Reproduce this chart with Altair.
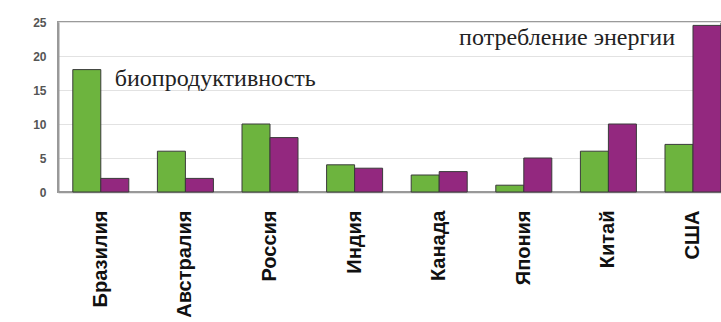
import altair as alt
import pandas as pd

countries = ["Бразилия", "Австралия", "Россия", "Индия", "Канада", "Япония", "Китай", "США"]
bio = [18, 6, 10, 4, 2.5, 1, 6, 7]
energy = [2, 2, 8, 3.5, 3, 5, 10, 24.5]
series_names = ["биопродуктивность", "потребление энергии"]
colors = ["#6db43e", "#93287f"]
y_ticks = [0, 5, 10, 15, 20, 25]

# annotation labels: text, anchor category, anchor value
ann_text = ["биопродуктивность", "потребление энергии"]
ann_country = ["Бразилия", "США"]
ann_value = [15.6, 21.6]

rows = []
for c, b, e in zip(countries, bio, energy):
    rows.append({"country": c, "series": series_names[0], "value": b})
    rows.append({"country": c, "series": series_names[1], "value": e})
df = pd.DataFrame(rows)
ann = pd.DataFrame({"text": ann_text, "country": ann_country, "value": ann_value})

x_scale = alt.Scale(domain=countries, paddingInner=0.338, paddingOuter=0.0875, align=1)
y_scale = alt.Scale(domain=[0, 25], nice=False)

x_axis = alt.Axis(title=None, labelAngle=270, labelFont="Liberation Sans",
                  labelFontSize=20, labelFontWeight="bold", labelColor="#111",
                  labelAlign="right", labelBaseline="middle", labelPadding=18,
                  ticks=False, domainColor="#999", domainWidth=1.5)
y_axis = alt.Axis(title=None, values=y_ticks, labelFont="Liberation Sans",
                  labelFontSize=12, labelFontWeight="bold", labelColor="#555",
                  labelPadding=12, ticks=False, domainColor="#999", domainWidth=2,
                  labelOverlap=False, gridColor="#e2e2e2", gridWidth=1)

bars = alt.Chart(df).mark_bar(stroke="#3a3a3a", strokeWidth=1).encode(
    x=alt.X("country:N", sort=countries, scale=x_scale, axis=x_axis),
    xOffset=alt.XOffset("series:N", sort=series_names, scale=alt.Scale(paddingInner=0)),
    y=alt.Y("value:Q", scale=y_scale, axis=y_axis),
    color=alt.Color("series:N", scale=alt.Scale(domain=series_names, range=colors), legend=None),
)

t1 = alt.Chart(ann.iloc[[0]]).mark_text(
    align="left", baseline="alphabetic", dx=14, font="Liberation Serif",
    fontSize=24, color="#222"
).encode(x=alt.X("country:N", sort=countries, scale=x_scale, axis=x_axis),
         y=alt.Y("value:Q", scale=y_scale, axis=y_axis), text="text:N")

t2 = alt.Chart(ann.iloc[[1]]).mark_text(
    align="right", baseline="alphabetic", dx=-18, font="Liberation Serif",
    fontSize=24, color="#222"
).encode(x=alt.X("country:N", sort=countries, scale=x_scale, axis=x_axis),
         y=alt.Y("value:Q", scale=y_scale, axis=y_axis), text="text:N")

chart = alt.layer(bars, t1, t2).properties(
    width=663, height=170,
    autosize=alt.AutoSizeParams(type="none"),
    padding={"left": 58, "top": 22, "right": 0, "bottom": 130},
    background="white",
).configure_view(stroke="#9a9a9a", strokeWidth=2)

chart.save("out.html", embed_options={"renderer": "svg", "actions": False})
